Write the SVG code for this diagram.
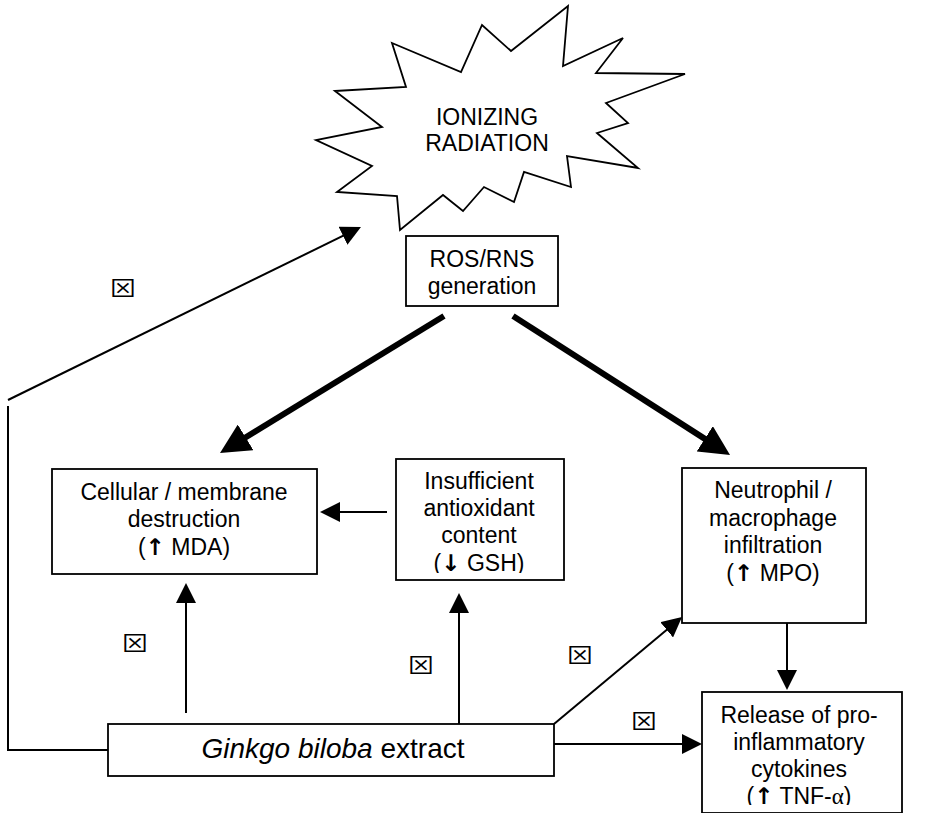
<svg xmlns="http://www.w3.org/2000/svg" width="928" height="813" viewBox="0 0 928 813">
  <style>
    .box { fill: #fff; stroke: #000; stroke-width: 1.8; }
    .burst { fill: #fff; stroke: #000; stroke-width: 1.8; stroke-linejoin: miter; }
    .lbl { font-family: "Liberation Sans", Arial, sans-serif; font-size: 23px; fill: #000; text-anchor: middle; }
    .big { font-size: 28px; }
    .sym { font-family: "DejaVu Sans", sans-serif; font-weight: bold; font-size: 23px; }
    .greek { font-family: "Liberation Serif", "Times New Roman", serif; }
    .thin { stroke: #000; stroke-width: 2; fill: none; marker-end: url(#headThin); }
    .thick { stroke: #000; stroke-width: 6; fill: none; marker-end: url(#headThick); }
    .plain { stroke: #000; stroke-width: 2; fill: none; }
    .x { font-family: "Noto Sans CJK JP", "DejaVu Sans", sans-serif; font-weight: 400; font-size: 22px; fill: #000; text-anchor: middle; }
  </style>
  <defs>
    <marker id="headThin" markerUnits="userSpaceOnUse" markerWidth="20" markerHeight="20" refX="10" refY="10" orient="auto">
      <path d="M0,0 L20,10 L0,20 z" fill="#000"/>
    </marker>
    <marker id="headThick" markerUnits="userSpaceOnUse" markerWidth="30" markerHeight="30" refX="15" refY="15" orient="auto">
      <path d="M0,0 L30,15 L0,30 z" fill="#000"/>
    </marker>
    <clipPath id="clipGsh"><rect x="396" y="459" width="168" height="114"/></clipPath>
    <clipPath id="clipTnf"><rect x="702" y="692" width="200" height="113"/></clipPath>
  </defs>

  <rect width="928" height="813" fill="#fff"/>

  <!-- radiation starburst -->
  <g id="radiation">
    <polygon class="burst" points="335,91 406,87 392,43 461,72 482,25 511,51 568,6 563,66 623,38 596,73 685,74 606,103 628,123 597,133 638,168 567,156 571,187 524,172 514,202 484,187 463,211 443,195 400,230 397,196 337,192 372,166 316,140 382,127"/>
    <text class="lbl" x="487" y="125">IONIZING</text>
    <text class="lbl" x="487" y="151">RADIATION</text>
  </g>

  <g id="ros">
    <rect class="box" x="406" y="236" width="152" height="70"/>
    <text class="lbl" x="482" y="267">ROS/RNS</text>
    <text class="lbl" x="482" y="294">generation</text>
  </g>

  <g id="cellular">
    <rect class="box" x="52" y="469" width="265" height="105"/>
    <text class="lbl" x="184" y="500">Cellular / membrane</text>
    <text class="lbl" x="184" y="527">destruction</text>
    <text class="lbl" x="184" y="555">(<tspan class="sym">↑</tspan> MDA)</text>
  </g>

  <g id="antioxidant">
    <rect class="box" x="396" y="459" width="168" height="121"/>
    <g clip-path="url(#clipGsh)">
      <text class="lbl" x="479" y="489">Insufficient</text>
      <text class="lbl" x="479" y="516">antioxidant</text>
      <text class="lbl" x="479" y="543">content</text>
      <text class="lbl" x="479" y="571">(<tspan class="sym">↓</tspan> GSH)</text>
    </g>
  </g>

  <g id="neutrophil">
    <rect class="box" x="682" y="468" width="184" height="155"/>
    <text class="lbl" x="773" y="498">Neutrophil /</text>
    <text class="lbl" x="773" y="526">macrophage</text>
    <text class="lbl" x="773" y="553">infiltration</text>
    <text class="lbl" x="773" y="581">(<tspan class="sym">↑</tspan> MPO)</text>
  </g>

  <g id="cytokines">
    <rect class="box" x="702" y="692" width="200" height="121"/>
    <g clip-path="url(#clipTnf)">
      <text class="lbl" x="799" y="723">Release of pro-</text>
      <text class="lbl" x="799" y="750">inflammatory</text>
      <text class="lbl" x="799" y="777">cytokines</text>
      <text class="lbl" x="799" y="804">(<tspan class="sym">↑</tspan> TNF-<tspan class="greek">α</tspan>)</text>
    </g>
  </g>

  <g id="ginkgo">
    <rect class="box" x="108" y="724" width="446" height="52"/>
    <text class="lbl big" x="333" y="758"><tspan font-style="italic">Ginkgo biloba</tspan> extract</text>
  </g>

  <g id="connectors">
    <line class="thick" x1="444" y1="316" x2="232.8" y2="445.2"/>
    <line class="thick" x1="513" y1="316" x2="717.4" y2="446.9"/>
    <line class="thin" x1="387" y1="512" x2="330" y2="512"/>
    <line class="thin" x1="186" y1="713" x2="186" y2="593"/>
    <line class="thin" x1="459" y1="724" x2="459" y2="603"/>
    <line class="thin" x1="554" y1="724" x2="674.3" y2="623.4"/>
    <line class="thin" x1="554" y1="744" x2="692" y2="744"/>
    <line class="thin" x1="787" y1="623" x2="787" y2="680"/>
    <polyline class="plain" points="108,750 8,750 8,406"/>
    <line class="thin" x1="8" y1="400" x2="352" y2="231.4"/>
  </g>

  <!-- inhibition marks -->
  <g id="marks">
    <text class="x" transform="translate(123,296) scale(1.2,1)">⊠</text>
    <text class="x" transform="translate(135,651) scale(1.2,1)">⊠</text>
    <text class="x" transform="translate(421,673) scale(1.2,1)">⊠</text>
    <text class="x" transform="translate(580,663) scale(1.2,1)">⊠</text>
    <text class="x" transform="translate(644,729) scale(1.2,1)">⊠</text>
  </g>
</svg>
